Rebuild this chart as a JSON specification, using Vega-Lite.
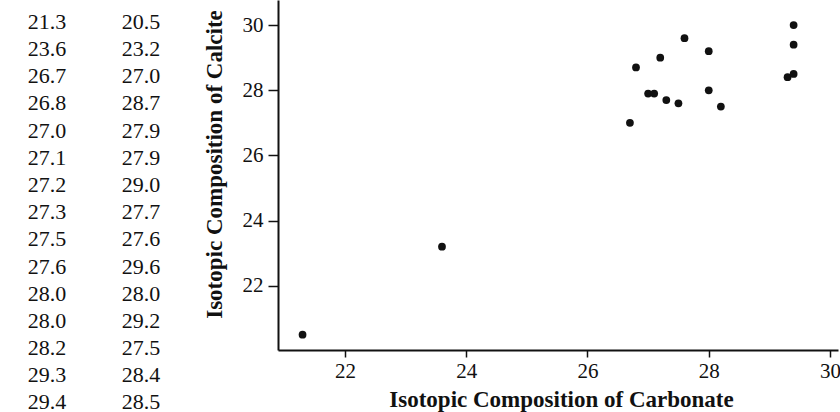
{
  "$schema": "https://vega.github.io/schema/vega-lite/v6.json",
  "padding": 0,
  "autosize": {"type": "pad"},
  "background": "white",
  "spacing": 90,
  "bounds": "flush",
  "data": {
    "values": [
      {"carbonate": 21.3, "calcite": 20.5},
      {"carbonate": 23.6, "calcite": 23.2},
      {"carbonate": 26.7, "calcite": 27.0},
      {"carbonate": 26.8, "calcite": 28.7},
      {"carbonate": 27.0, "calcite": 27.9},
      {"carbonate": 27.1, "calcite": 27.9},
      {"carbonate": 27.2, "calcite": 29.0},
      {"carbonate": 27.3, "calcite": 27.7},
      {"carbonate": 27.5, "calcite": 27.6},
      {"carbonate": 27.6, "calcite": 29.6},
      {"carbonate": 28.0, "calcite": 28.0},
      {"carbonate": 28.0, "calcite": 29.2},
      {"carbonate": 28.2, "calcite": 27.5},
      {"carbonate": 29.3, "calcite": 28.4},
      {"carbonate": 29.4, "calcite": 28.5},
      {"carbonate": 29.4, "calcite": 29.4},
      {"carbonate": 29.4, "calcite": 30.0}
    ]
  },
  "config": {
    "view": {"stroke": null},
    "font": "Liberation Serif",
    "axis": {
      "grid": false,
      "domainColor": "#111",
      "domainWidth": 2,
      "tickColor": "#111",
      "tickWidth": 1.5,
      "labelColor": "#111",
      "labelFont": "Liberation Serif",
      "labelFontSize": 21,
      "titleColor": "#111",
      "titleFont": "Liberation Serif",
      "titleFontSize": 23,
      "titleFontWeight": "bold"
    }
  },
  "hconcat": [
    {
      "width": 188,
      "height": 412,
      "transform": [
        {"window": [{"op": "row_number", "as": "row"}]},
        {"fold": ["carbonate", "calcite"], "as": ["column", "value"]}
      ],
      "mark": {"type": "text", "fontSize": 22, "font": "Liberation Serif", "color": "#111", "baseline": "middle", "clip": true},
      "encoding": {
        "x": {"field": "column", "type": "nominal", "scale": {"type": "point", "domain": ["carbonate", "calcite"], "padding": 0.5}, "axis": null},
        "y": {"field": "row", "type": "quantitative", "scale": {"domain": [0.2, 15.35], "reverse": true, "nice": false, "zero": false}, "axis": null},
        "text": {"field": "value", "type": "quantitative", "format": ".1f"}
      }
    },
    {
      "width": 560,
      "height": 350,
      "mark": {"type": "point", "filled": true, "size": 60, "color": "#111", "opacity": 1, "clip": true},
      "encoding": {
        "x": {
          "field": "carbonate", "type": "quantitative",
          "scale": {"domain": [20.895, 30.132], "nice": false, "zero": false},
          "axis": {"title": "Isotopic Composition of Carbonate", "values": [22, 24, 26, 28, 30], "tickSize": 7, "labelPadding": 3, "titlePadding": 7, "titleX": 283, "labelFlush": false, "labelOverlap": false}
        },
        "y": {
          "field": "calcite", "type": "quantitative",
          "scale": {"domain": [20.03, 30.77], "nice": false, "zero": false},
          "axis": {"title": "Isotopic Composition of Calcite", "values": [22, 24, 26, 28, 30], "tickSize": 10, "labelPadding": 5, "titlePadding": 16, "titleY": 164}
        }
      }
    }
  ]
}
